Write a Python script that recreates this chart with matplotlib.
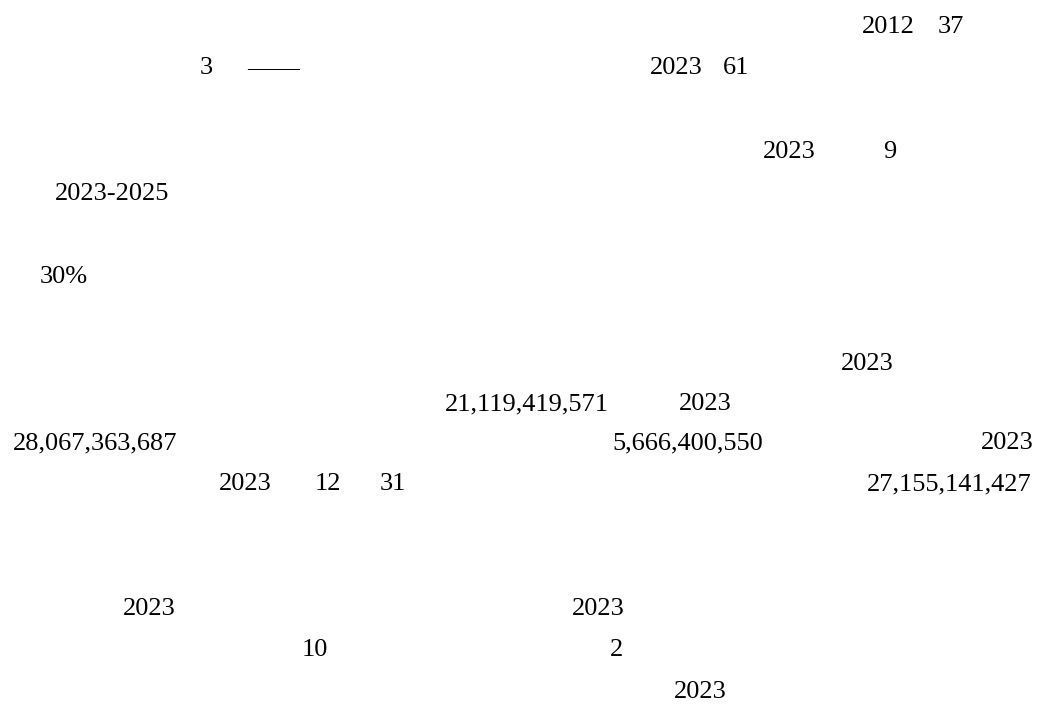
import matplotlib.pyplot as plt

# visible text fragments, one list per line of the page
line_texts = [
    ['2012', '37'],
    ['3', '——', '2023', '61'],
    ['2023', '9'],
    ['2023-2025'],
    ['30%'],
    ['2023'],
    ['21,119,419,571', '2023'],
    ['28,067,363,687', '5,666,400,550', '2023'],
    ['2023', '12', '31', '27,155,141,427'],
    ['2023', '2023'],
    ['10', '2'],
    ['2023'],
]

# layout: baseline of each line (px from top) and left edge of each fragment
baselines = [33, 74, 158, 200, 283, 370, 410, 449, 490, 615, 656, 698]
left_edges = [
    [862, 938],
    [200, 247, 650, 723],
    [763, 883],
    [55],
    [40],
    [841],
    [445, 679],
    [13, 612, 981],
    [219, 315, 380, 867],
    [123, 572],
    [302, 610],
    [674],
]

fig = plt.figure(figsize=(10.42, 7.07), dpi=100)
ax = fig.add_axes([0, 0, 1, 1])
ax.set_xlim(0, 1042)
ax.set_ylim(707, 0)
ax.axis('off')

for texts, xs, y in zip(line_texts, left_edges, baselines):
    for s, x in zip(texts, xs):
        ax.text(x, y, s, ha='left', va='baseline', fontsize=19,
                family='Liberation Serif', color='black')

fig.savefig('out.png', dpi=100, facecolor='white')
plt.close('all')
